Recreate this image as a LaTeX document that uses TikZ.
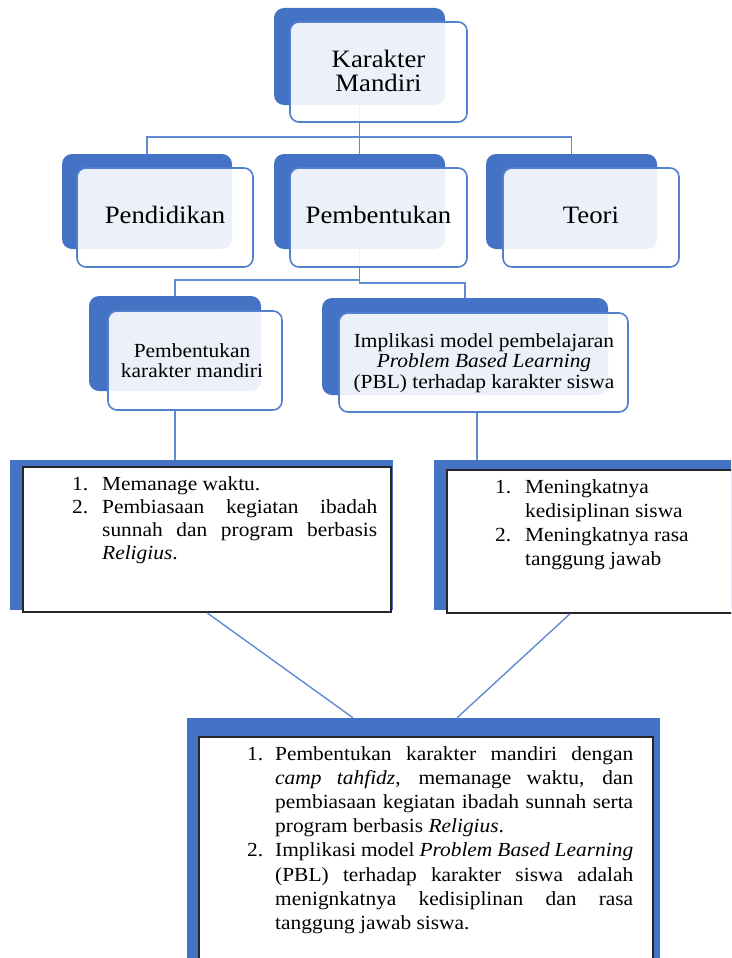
\documentclass[tikz,border=0pt]{standalone}
\usepackage{fontspec}
\setmainfont[FakeStretch=1.07]{Liberation Serif}
\usetikzlibrary{fit}
\definecolor{blueA}{RGB}{68,114,196}
\definecolor{blueB}{RGB}{82,128,206}
\definecolor{connC}{RGB}{96,138,212}
\newcommand\litem[2]{\par\noindent\hangindent=#1\hangafter=1\makebox[#1][l]{#2}\ignorespaces}
\newcommand\ctr[2]{\parbox[t]{#1}{\centering #2}}
\newcommand\lsetup{\tolerance=10000\hbadness=10000\hyphenpenalty=10000\parindent=0pt}
\begin{document}
\begin{tikzpicture}[x=1pt,y=-1pt,
  back/.style={fill=blueA,draw=none,rounded corners=10pt,inner sep=0pt},
  front/.style={fill=white,fill opacity=0.9,draw=blueB,draw opacity=1,line width=1.6pt,rounded corners=9pt,inner sep=0pt},
  conn/.style={draw=connC,line width=1.4pt},
  lback/.style={fill=blueA,draw=none,inner sep=0pt},
  lfront/.style={fill=white,draw=black!85,line width=1.6pt,inner sep=0pt},
  big/.style={font=\fontsize{25}{24}\selectfont,inner sep=0pt},
  mid/.style={font=\fontsize{20}{20.5}\selectfont,inner sep=0pt},
  txt/.style={inner sep=0pt,anchor=base west}
]
\useasboundingbox (0,0) rectangle (731,958);
\begin{scope}
\clip (0,0) rectangle (731,958);
% back shapes
\node[back,fit={(274,8)(445,105)}] (kmB) {};
\node[back,fit={(62,154)(232,249)}] (pdB) {};
\node[back,fit={(274,154)(445,249)}] (pbB) {};
\node[back,fit={(486,154)(657,249)}] (trB) {};
\node[back,fit={(89,296)(261,391)}] (p3B) {};
\node[back,fit={(322,298)(608,395)}] (i3B) {};
% connectors
\coordinate (j1) at (359.5,137);
\coordinate (j2) at (359.5,280);
\coordinate (j3) at (359.5,283);
\draw[conn] (kmB.south) -- (j1);
\draw[conn] (pdB.north) |- (j1) -| (trB.north);
\draw[conn] (j1) -- (pbB.north);
\draw[conn] (pbB.south) -- (j3) -| (i3B.north);
\draw[conn] (j2) -| (p3B.north);
% front shapes
\node[front,fit={(290,22)(467,122)}] (kmF) {};
\node[front,fit={(77,168)(253,267)}] (pdF) {};
\node[front,fit={(290,168)(467,267)}] (pbF) {};
\node[front,fit={(503,168)(679,267)}] (trF) {};
\node[front,fit={(108,311)(282,410)}] (p3F) {};
\node[front,fit={(339,313)(628,412)}] (i3F) {};
% list boxes
\node[lback,fit={(10,460)(393,610)}] (l1B) {};
\node[lfront,fit={(23,467)(391,612)}] (l1F) {};
\node[lback,fit={(434,460)(760,610)}] (l2B) {};
\node[lfront,fit={(447,470)(760,613)}] (l2F) {};
\node[lback,fit={(187,718)(660,985)}] (bB) {};
\node[lfront,fit={(199,737)(653,985)}] (bF) {};
\draw[conn] (p3B.south |- p3F.south) -- (p3B.south |- l1B.north);
\draw[conn] ([xshift=-6.5pt]i3F.south) -- ([xshift=-6.5pt]i3F.south |- l2B.north);
\draw[conn] (l1F.south) -- ([xshift=-70.5pt]bB.north);
\draw[conn] ([xshift=-33.5pt]l2F.south) -- ([xshift=33.5pt]bB.north);
% texts
\node[big,anchor=base] (kmT) at (378.5,67) {\ctr{160pt}{Karakter\\Mandiri}};
\node[big,anchor=base] (pdT) at (165,223) {Pendidikan};
\node[big,anchor=base] (pbT) at (378.5,223) {Pembentukan};
\node[big,anchor=base] (trT) at (591,223) {Teori};
\node[mid,anchor=base] (p3T) at (192,357) {\ctr{170pt}{Pembentukan\\karakter mandiri}};
\node[mid,anchor=base] (i3T) at (484,347) {\ctr{290pt}{Implikasi model pembelajaran\\\textit{Problem Based Learning}\\(PBL) terhadap karakter siswa}};
\node[txt,font=\fontsize{20}{23.3}\selectfont] (l1T) at (72,490) {\parbox[t]{305pt}{\lsetup
\litem{30pt}{1.}Memanage waktu.\par
\litem{30pt}{2.}Pembiasaan kegiatan ibadah\linebreak sunnah dan program berbasis\linebreak \textit{Religius}.}};
\node[txt,font=\fontsize{20}{24}\selectfont] (l2T) at (495,493) {\parbox[t]{220pt}{\lsetup\rightskip=0pt plus 1fil
\litem{30pt}{1.}Meningkatnya\newline kedisiplinan siswa\par
\litem{30pt}{2.}Meningkatnya rasa\newline tanggung jawab}};
\node[txt,font=\fontsize{20}{24.2}\selectfont] (bT) at (247,760) {\parbox[t]{386pt}{\lsetup
\litem{28pt}{1.}Pembentukan karakter mandiri dengan\linebreak \textit{camp tahfidz}, memanage waktu, dan\linebreak pembiasaan kegiatan ibadah sunnah serta\linebreak program berbasis \textit{Religius}.\par
\litem{28pt}{2.}Implikasi model \textit{Problem Based Learning}\linebreak (PBL) terhadap karakter siswa adalah\linebreak menignkatnya kedisiplinan dan rasa\linebreak tanggung jawab siswa.}};
\end{scope}
\end{tikzpicture}
\end{document}
